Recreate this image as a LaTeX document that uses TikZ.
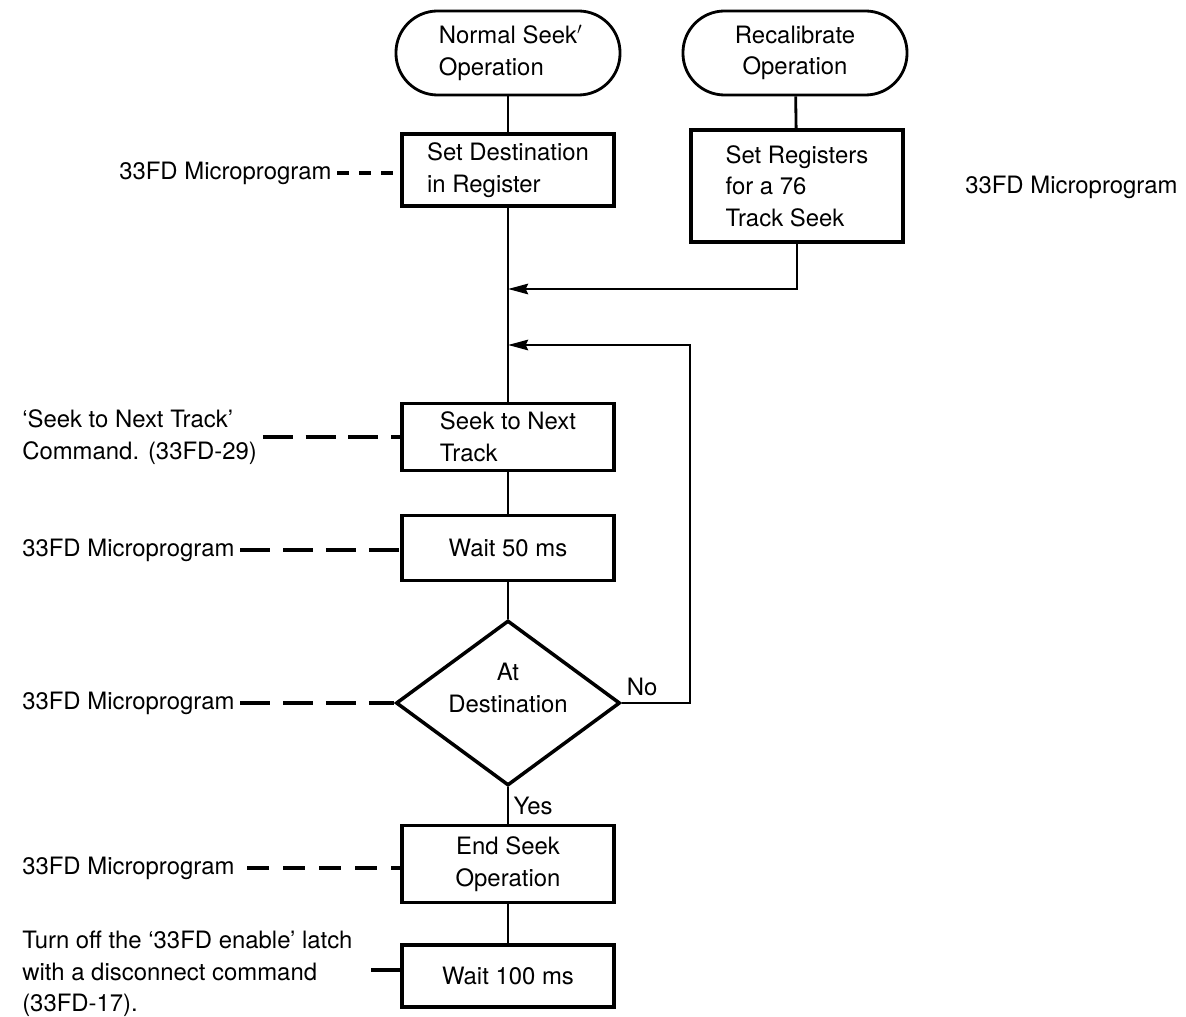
\documentclass[tikz,border=0pt]{standalone}
\usepackage{fontspec}
\setmainfont{TeX Gyre Heros}
\usetikzlibrary{arrows.meta,positioning,shapes.geometric}

\begin{document}
\begin{tikzpicture}[x=0.025cm, y=-0.025cm,
  font=\fontsize{17}{22.5}\selectfont,
  terminal/.style={draw, line width=2pt, rounded corners=1.04cm, minimum width=5.6cm, minimum height=2.1cm},
  stepbox/.style={draw, line width=2.5pt, minimum width=5.3cm, inner sep=4pt},
  decision/.style={draw, line width=2.5pt, diamond, aspect=1.36, inner sep=0pt,
    minimum width=5.6cm, minimum height=4.125cm},
  flow/.style={line width=2pt},
  into/.style={flow, -{Stealth[length=0.5cm, width=0.26cm, inset=0.06cm]}},
  note/.style={anchor=west, align=left, inner sep=0pt},
  tie/.style={line width=2.2pt, dash pattern=on 0.75cm off 0.32cm, shorten <=4pt}]
  \useasboundingbox (0,0) rectangle (1186,1017);

  % start points
  \node[terminal, align=left] (normal) at (508,53) {Normal Seek\rlap{$^{\prime}$}\\Operation};
  \node[terminal, align=center] (recal) at (795,53) {Recalibrate\\Operation};

  % main column
  \node[stepbox, minimum height=1.8cm, align=left] (dest) at (508,170) {Set Destination\\in Register};
  \node[stepbox, minimum height=2.8cm, align=left] (regs) at (797,186) {Set Registers\\for a 76\\Track Seek};
  \node[stepbox, minimum height=1.675cm, align=left] (next) at (508,437) {Seek to Next\\Track};
  \node[stepbox, minimum height=1.625cm] (wait50) at (508,548) {Wait 50 ms};
  \node[decision] (atdest) at (508,703) {};
  \node[align=center] (atdesttext) at (508,688) {At\\Destination};
  \node[stepbox, minimum height=1.925cm, align=center] (endseek) at (508,864) {End Seek\\Operation};
  \node[stepbox, minimum height=1.55cm] (wait100) at (508,976) {Wait 100 ms};

  \coordinate (join1) at (508,289);
  \coordinate (join2) at (508,345);
  \coordinate (loopx) at (690,345);

  \draw[flow] (normal) -- (dest);
  \draw[flow] (recal) -- (regs);
  \draw[flow] (dest) -- (next);
  \draw[flow] (next) -- (wait50);
  \draw[flow] (wait50) -- (atdest);
  \draw[flow] (atdest.south) -- node[pos=0.12, anchor=north west, inner sep=3pt] {Yes} (endseek.north);
  \draw[flow] (endseek) -- (wait100);
  \draw[into] (regs.south) |- (join1);
  \draw[into] (atdest.east) -- node[pos=0.3, above, inner sep=4pt] {No} (atdest.east -| loopx) -- (loopx) -- (join2);

  % side notes
  \node[note] (lblright) at (965,187) {33FD Microprogram};
  \node[note] (lbldest) at (119,173) {33FD Microprogram};
  \node[note] (lblnext) at (22,437) {`Seek to Next Track'\\Command. (33FD-29)};
  \node[note] (lblwait) at (22,550) {33FD Microprogram};
  \node[note] (lbldec) at (22,703) {33FD Microprogram};
  \node[note] (lblend) at (22,868) {33FD Microprogram};
  \node[note] (lbloff) at (22,974) {Turn off the `33FD enable' latch\\with a disconnect command\\(33FD-17).};
  \coordinate (stub) at (371,970);

  \draw[tie, dash pattern=on 0.3cm off 0.25cm] (lbldest.east) -- (lbldest.east -| dest.west);
  \draw[tie] (lblnext.east) -- (lblnext.east -| next.west);
  \draw[tie] (lblwait.east) -- (lblwait.east -| wait50.west);
  \draw[tie] (lbldec.east) -- (atdest.west);
  \draw[tie, dash pattern=on 0.55cm off 0.35cm, shorten <=9pt] (lblend.east) -- (lblend.east -| endseek.west);
  \draw[line width=2.2pt] (stub) -- (stub -| wait100.west);
\end{tikzpicture}
\end{document}
